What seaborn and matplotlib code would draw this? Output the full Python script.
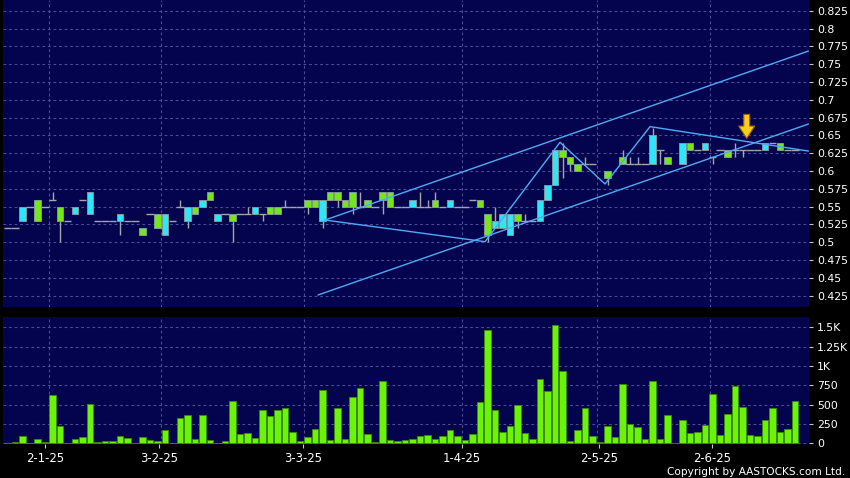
import numpy as np
import pandas as pd
import matplotlib
matplotlib.use("Agg")
import matplotlib.pyplot as plt
import seaborn as sns

# daily bars (index = trading day position on the chart)
day = list(range(1, 107))
nan = np.nan
open_ = [0.52, 0.52, 0.53, 0.55, 0.56, 0.55, 0.56, 0.55, 0.53, 0.54,
         0.56, 0.54, 0.53, 0.53, 0.53, 0.53, 0.53, 0.53, 0.52, 0.54,
         0.54, 0.51, 0.53, 0.55, 0.53, 0.55, 0.55, 0.57, 0.53, 0.54,
         0.54, 0.54, 0.54, 0.54, 0.54, 0.55, 0.55, 0.55, 0.55, 0.55,
         0.56, 0.56, 0.53, 0.57, 0.57, 0.56, 0.57, 0.55, 0.56, 0.55,
         0.57, 0.57, 0.55, 0.55, 0.55, 0.55, 0.55, 0.56, 0.55, 0.55,
         0.55, 0.55, 0.56, 0.56, 0.54, 0.52, 0.52, 0.51, 0.54, 0.53,
         0.53, 0.53, 0.56, 0.58, 0.63, 0.62, 0.61, 0.61, 0.61, nan,
         0.60, nan, 0.62, 0.61, 0.61, 0.61, 0.61, 0.63, 0.62, nan,
         0.61, 0.64, 0.63, 0.63, 0.62, 0.63, 0.63, 0.63, 0.63, 0.63,
         0.63, 0.63, 0.64, 0.64, 0.63, 0.63]
high = [0.52, 0.52, 0.55, 0.55, 0.56, 0.55, 0.57, 0.55, 0.53, 0.55,
        0.56, 0.57, 0.53, 0.53, 0.53, 0.54, 0.53, 0.53, 0.52, 0.54,
        0.54, 0.54, 0.53, 0.56, 0.55, 0.55, 0.56, 0.57, 0.54, 0.54,
        0.54, 0.54, 0.55, 0.55, 0.54, 0.55, 0.55, 0.56, 0.55, 0.55,
        0.56, 0.56, 0.56, 0.57, 0.57, 0.56, 0.57, 0.57, 0.56, 0.55,
        0.57, 0.57, 0.55, 0.55, 0.56, 0.57, 0.56, 0.57, 0.55, 0.56,
        0.55, 0.55, 0.56, 0.56, 0.54, 0.55, 0.54, 0.54, 0.54, 0.54,
        0.53, 0.56, 0.58, 0.63, 0.64, 0.62, 0.61, 0.62, 0.61, nan,
        0.60, nan, 0.63, 0.62, 0.62, 0.61, 0.66, 0.63, 0.62, nan,
        0.64, 0.64, 0.63, 0.64, 0.62, 0.63, 0.63, 0.64, 0.63, 0.63,
        0.63, 0.64, 0.64, 0.64, 0.63, 0.63]
low = [0.52, 0.52, 0.53, 0.55, 0.53, 0.55, 0.56, 0.50, 0.53, 0.54,
       0.56, 0.54, 0.53, 0.53, 0.53, 0.51, 0.53, 0.53, 0.51, 0.54,
       0.52, 0.51, 0.53, 0.55, 0.52, 0.54, 0.55, 0.56, 0.53, 0.54,
       0.50, 0.54, 0.54, 0.54, 0.53, 0.54, 0.54, 0.55, 0.55, 0.55,
       0.54, 0.55, 0.52, 0.56, 0.55, 0.55, 0.54, 0.55, 0.55, 0.55,
       0.54, 0.55, 0.55, 0.55, 0.55, 0.55, 0.55, 0.55, 0.55, 0.55,
       0.55, 0.55, 0.56, 0.55, 0.50, 0.52, 0.52, 0.51, 0.52, 0.53,
       0.53, 0.53, 0.56, 0.58, 0.59, 0.60, 0.60, 0.61, 0.61, nan,
       0.58, nan, 0.61, 0.61, 0.61, 0.61, 0.61, 0.61, 0.61, nan,
       0.61, 0.63, 0.63, 0.63, 0.61, 0.63, 0.62, 0.62, 0.62, 0.63,
       0.63, 0.63, 0.64, 0.63, 0.63, 0.63]
close = [0.52, 0.52, 0.55, 0.55, 0.53, 0.55, 0.56, 0.53, 0.53, 0.55,
         0.56, 0.57, 0.53, 0.53, 0.53, 0.54, 0.53, 0.53, 0.51, 0.54,
         0.52, 0.54, 0.53, 0.55, 0.55, 0.54, 0.56, 0.56, 0.54, 0.54,
         0.53, 0.54, 0.54, 0.55, 0.54, 0.54, 0.54, 0.55, 0.55, 0.55,
         0.55, 0.55, 0.56, 0.56, 0.56, 0.55, 0.55, 0.55, 0.55, 0.55,
         0.56, 0.55, 0.55, 0.55, 0.56, 0.55, 0.55, 0.55, 0.55, 0.56,
         0.55, 0.55, 0.56, 0.55, 0.51, 0.53, 0.54, 0.54, 0.53, 0.53,
         0.53, 0.56, 0.58, 0.63, 0.62, 0.61, 0.60, 0.61, 0.61, nan,
         0.59, nan, 0.61, 0.61, 0.61, 0.61, 0.65, 0.63, 0.61, nan,
         0.64, 0.63, 0.63, 0.64, 0.62, 0.63, 0.62, 0.63, 0.63, 0.63,
         0.63, 0.64, 0.64, 0.63, 0.63, 0.63]
volume = [0, 20, 94, 0, 56, 17, 625, 224, 10, 56,
          82, 508, 17, 34, 34, 94, 69, 0, 78, 43,
          26, 172, 0, 323, 362, 60, 366, 47, 10, 34,
          547, 116, 129, 69, 426, 349, 431, 452, 150, 30,
          77, 185, 685, 43, 452, 52, 599, 711, 120, 17,
          801, 43, 30, 39, 60, 99, 112, 56, 99, 172,
          90, 39, 116, 538, 1461, 431, 146, 224, 495, 133,
          56, 831, 672, 1530, 935, 30, 172, 452, 99, 13,
          220, 82, 767, 246, 215, 52, 810, 56, 362, 0,
          301, 138, 142, 233, 638, 112, 375, 741, 465, 112,
          95, 301, 461, 142, 185, 551]

# drawn trend lines (day position, price)
zigzag_day = [43.33, 64.67, 74.67, 80.67, 86.67, 107.8]
zigzag_price = [0.5312, 0.5008, 0.6403, 0.5818, 0.6623, 0.628]
upper_day = [43.33, 107.8]
upper_price = [0.5312, 0.7684]
lower_day = [42.4, 107.8]
lower_price = [0.426, 0.666]
arrow_day = 99.56

date_labels = ["2-1-25", "3-2-25", "3-3-25", "1-4-25", "2-5-25", "2-6-25"]
date_pos = [6.0, 21.17, 40.4, 61.6, 79.87, 94.96]
month_grid = [6.57, 21.53, 40.53, 61.56, 79.6, 94.67]

BG = "#04044e"
GRID = "#4c4c96"
UP = "#30e6f6"
DOWN = "#74e61c"
VOL = "#6cf408"
WICK = "#a4a4ac"
TREND = "#4eaaf8"

sns.set_style("dark", {"axes.facecolor": BG, "figure.facecolor": "black",
                       "axes.edgecolor": BG, "text.color": "white"})
plt.rcParams["font.family"] = ["DejaVu Sans"]

df = pd.DataFrame({"day": day, "open": open_, "high": high, "low": low,
                   "close": close, "volume": volume})

fig = plt.figure(figsize=(8.5, 4.78), dpi=100)
ax_p = fig.add_axes([0.0039, 0.3567, 0.9473, 0.6433])
ax_v = fig.add_axes([0.0039, 0.0711, 0.9473, 0.2647])

# ---- price panel ----
bars = df.dropna()
wick = bars[bars["high"] > bars["low"]]
ax_p.vlines(wick["day"], wick["low"], wick["high"], color=WICK, lw=1, zorder=2)
doji = bars[bars["open"] == bars["close"]]
ax_p.hlines(doji["open"], doji["day"] - 0.5, doji["day"] + 0.5, color=WICK, lw=1, zorder=2)
body = bars[bars["open"] != bars["close"]]
colors = [UP if c > o else DOWN for o, c in zip(body["open"], body["close"])]
ax_p.bar(body["day"], (body["close"] - body["open"]).abs(),
         bottom=body[["open", "close"]].min(axis=1), width=0.86,
         color=colors, edgecolor="#8c9c9c", linewidth=0.6, zorder=3)

for xs, ys in [(zigzag_day, zigzag_price), (upper_day, upper_price), (lower_day, lower_price)]:
    sns.lineplot(x=xs, y=ys, ax=ax_p, color=TREND, lw=1, sort=False,
                 estimator=None, legend=False, zorder=4)

ax_p.annotate("", xy=(arrow_day, 0.6459), xytext=(arrow_day, 0.6795),
              arrowprops=dict(width=4.2, headwidth=11.5, headlength=8.8, shrink=0,
                              facecolor="#ffcc1a", edgecolor="#9a6a00", lw=0.8),
              zorder=5)

ax_p.set_ylim(0.40844, 0.84002)
ax_p.set_yticks(np.arange(0.425, 0.826, 0.025))
ax_p.set_yticklabels(["%g" % round(v, 3) for v in np.arange(0.425, 0.826, 0.025)])
ax_p.set_xticks([])

# ---- volume panel ----
sns.barplot(data=df, x="day", y="volume", native_scale=True, width=0.86,
            color=VOL, saturation=1, edgecolor="#3c8a00", linewidth=0.6,
            errorbar=None, ax=ax_v, zorder=3)
ax_v.set_ylim(-9, 1627)
vol_ticks = [0, 250, 500, 750, 1000, 1250, 1500]
ax_v.set_yticks(vol_ticks)
ax_v.set_yticklabels(["0", "250", "500", "750", "1K", "1.25K", "1.5K"])
ax_v.set_xticks(date_pos)
ax_v.set_xticklabels(date_labels)

for ax in (ax_p, ax_v):
    ax.set_xlim(0.44, 107.8)
    ax.set_xlabel("")
    ax.set_ylabel("")
    ax.grid(False)
    for v in ax.get_yticks():
        ax.axhline(v, color=GRID, lw=0.8, ls=(0, (2.5, 2.5)), zorder=1)
    for g in month_grid:
        ax.axvline(g, color=GRID, lw=0.8, ls=(0, (2.5, 2.5)), zorder=1)
    for s in ax.spines.values():
        s.set_visible(False)
    ax.yaxis.tick_right()
    ax.tick_params(axis="y", right=True, left=False, labelright=True, labelleft=False,
                   length=3, width=0.8, color="#c8c8c8", labelcolor="white",
                   labelsize=7.8, pad=3)

ax_v.tick_params(axis="x", bottom=True, length=3, width=0.8, color="#c8c8c8",
                 labelcolor="white", labelsize=8.4, pad=2.5)

fig.text(0.9941, 0.0132, "Copyright by AASTOCKS.com Ltd.", color="white",
         fontsize=7.6, ha="right", va="center")

fig.savefig("out.png", dpi=100, facecolor="black")
